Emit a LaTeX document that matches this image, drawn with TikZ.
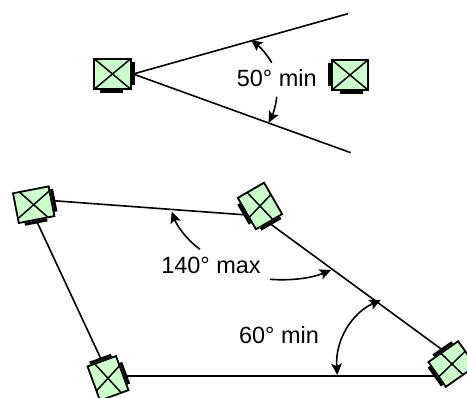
\documentclass[tikz,border=0pt]{standalone}
\usepackage{fontspec}
\setmainfont{Liberation Sans}
\usetikzlibrary{arrows.meta}

\definecolor{sensorgreen}{HTML}{CCFFCC}

% one sensor: [extra scope options]{name}{x}{y}{angle}
\newcommand{\sensor}[5][]{
    \begin{scope}[shift={(#3,#4)},rotate=#5,#1]
        \fill (19,-12) rectangle (22,11);
        \fill (-12.5,16) rectangle (10.5,19);
        \node[sensorbox] (#2) at (0,0) {};
    \end{scope}
}

\begin{document}
\begin{tikzpicture}[
            x=0.75pt, y=-0.75pt,
            sensorbox/.style={draw, fill=sensorgreen, line width=1.35pt, transform shape,
                rectangle, inner sep=0pt, outer sep=1.9pt,
                minimum width=27.2pt, minimum height=22.7pt,
                path picture={
                    \draw[line width=1.1pt] (path picture bounding box.north west) -- (path picture bounding box.south east);
                    \draw[line width=1.1pt] (path picture bounding box.south west) -- (path picture bounding box.north east);
                }},
            link/.style={line width=1.2pt},
            angle arrow/.style={line width=1.2pt, -{Stealth[length=8.5pt,width=8pt,inset=1.8pt]}},
            both arrow/.style={line width=1.2pt, {Stealth[length=8.5pt,width=8pt,inset=1.8pt]}-{Stealth[length=8.5pt,width=8pt,inset=1.8pt]}},
            label text/.style={font=\fontsize{17.6pt}{20pt}\selectfont, inner sep=0pt}
            ]

            \useasboundingbox (0,0) rectangle (467,398);

            % upper group
            \sensor{sensorTL}{112.5}{74}{0}
            \sensor[xscale=-1]{sensorTR}{350}{75}{0}

            \coordinate (upperEnd) at (348,13.7);
            \coordinate (lowerEnd) at (350.7,152.7);
            \draw[link] (sensorTL.east) -- (upperEnd);
            \draw[link] (sensorTL.east) -- (lowerEnd);

            \node[label text] (minFifty) at (276.7,78) {50° min};

            \coordinate (upperFrom) at (271.7,62.7);
            \coordinate (upperTip) at (251,40);
            \coordinate (lowerFrom) at (276.7,96.7);
            \coordinate (lowerTip) at (268.7,122.7);
            \draw[angle arrow] (upperFrom) .. controls (266,53) and (259,46) .. (upperTip);
            \draw[angle arrow] (lowerFrom) .. controls (276,105) and (273,114) .. (lowerTip);

            % lower group
            \sensor{sensorA}{33.7}{204.7}{11}
            \sensor{sensorB}{260}{206}{-60}
            \sensor{sensorC}{108}{378.3}{110}
            \sensor{sensorD}{452}{364}{215}

            \draw[link] (sensorA.east) -- (sensorB.south);
            \draw[link] (sensorB.east) -- (sensorD.south);
            \draw[link] (sensorA.south) -- (sensorC.east);
            \draw[link] (sensorD.east) -- (sensorD.east -| sensorC.south);

            \node[label text] (maxAngle) at (211,265) {140° max};
            \node[label text] (minSixty) at (279,335) {60° min};

            \coordinate (maxFromA) at (200,249.3);
            \coordinate (maxTipA) at (171.7,211.7);
            \coordinate (maxFromB) at (270,279.3);
            \coordinate (maxTipB) at (331,270);
            \draw[angle arrow] (maxFromA) .. controls (187,240) and (177,226) .. (maxTipA);
            \draw[angle arrow] (maxFromB) .. controls (291,281) and (312,278) .. (maxTipB);

            \coordinate (sixtyBase) at (337.3,375);
            \coordinate (sixtyTop) at (380.7,300);
            \draw[both arrow] (sixtyBase) .. controls (335,340) and (352,313) .. (sixtyTop);

        \end{tikzpicture}
\end{document}
